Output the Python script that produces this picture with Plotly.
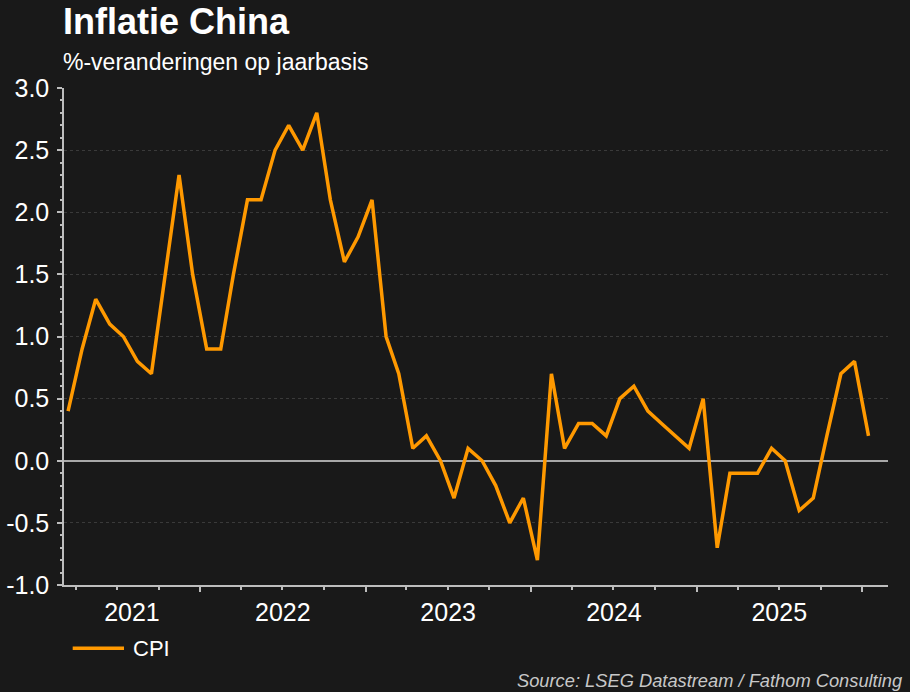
import plotly.graph_objects as go
import pandas as pd

# ---- data (China CPI, % y/y, monthly Mar 2021 - Jan 2026) ----
cpi = [0.4, 0.9, 1.3, 1.1, 1.0, 0.8, 0.7, 1.5, 2.3, 1.5,
       0.9, 0.9, 1.5, 2.1, 2.1, 2.5, 2.7, 2.5, 2.8, 2.1, 1.6, 1.8,
       2.1, 1.0, 0.7, 0.1, 0.2, 0.0, -0.3, 0.1, 0.0, -0.2, -0.5, -0.3,
       -0.8, 0.7, 0.1, 0.3, 0.3, 0.2, 0.5, 0.6, 0.4, 0.3, 0.2, 0.1,
       0.5, -0.7, -0.1, -0.1, -0.1, 0.1, 0.0, -0.4, -0.3, 0.2, 0.7, 0.8,
       0.2]
year_labels = ["2021", "2022", "2023", "2024", "2025"]
year_label_pos = ["2021-08-03", "2022-07-02", "2023-07-02", "2024-07-02", "2025-07-02"]
y_tickvals = [-1.0, -0.5, 0.0, 0.5, 1.0, 1.5, 2.0, 2.5, 3.0]
y_ticktext = ["-1.0", "-0.5", "0.0", "0.5", "1.0", "1.5", "2.0", "2.5", "3.0"]

dates = pd.date_range("2021-03-01", periods=len(cpi), freq="MS") + pd.Timedelta(days=14)

BG = "#191919"
AXIS = "#bdbdbd"
ORANGE = "#FF9900"
FONT = "Arial, Liberation Sans, sans-serif"
x_range = ["2021-03-06", "2026-02-27"]

fig = go.Figure()
fig.add_trace(go.Scatter(x=dates, y=cpi, mode="lines", name="CPI",
                         line=dict(color=ORANGE, width=3.5), showlegend=False))
fig.add_trace(go.Scatter(x=dates, y=cpi, mode="lines", xaxis="x2",
                         line=dict(width=0, color="rgba(0,0,0,0)"),
                         showlegend=False, hoverinfo="skip"))

fig.update_layout(
    width=910, height=692,
    margin=dict(l=64, r=22, t=88, b=107),
    paper_bgcolor=BG, plot_bgcolor=BG,
    font=dict(family=FONT, color="white", size=25),
    showlegend=False,
    xaxis=dict(
        type="date", range=x_range, automargin=False,
        showgrid=False, zeroline=False,
        showline=True, linecolor=AXIS, linewidth=1.5,
        ticks="outside", ticklen=5, tickcolor=AXIS, tickwidth=1.5,
        tick0="2021-01-01", dtick="M12",
        showticklabels=False,
        minor=dict(dtick="M3", tick0="2021-01-01", ticks="outside",
                   ticklen=3, tickcolor=AXIS, tickwidth=1.5, showgrid=False),
    ),
    xaxis2=dict(
        type="date", range=x_range, overlaying="x", side="bottom",
        anchor="y", showgrid=False, zeroline=False, showline=False,
        automargin=False,
        ticks="", tickmode="array", tickvals=year_label_pos,
        ticktext=year_labels, tickfont=dict(size=25, color="white"),
        ticklabelstandoff=10,
    ),
    yaxis=dict(
        range=[-1, 3], tickmode="array", tickvals=y_tickvals, ticktext=y_ticktext,
        automargin=False,
        showgrid=True, gridcolor="#3a3a3a", griddash="dot", gridwidth=1,
        zeroline=True, zerolinecolor="#a8a8a8", zerolinewidth=1.5,
        showline=True, linecolor=AXIS, linewidth=1.5,
        ticks="outside", ticklen=5, tickcolor=AXIS, tickwidth=1.5,
        tickfont=dict(size=25, color="white"),
        ticklabelstandoff=3,
        minor=dict(dtick=0.1, tick0=0, ticks="outside", ticklen=2.5,
                   tickcolor=AXIS, tickwidth=1.5, showgrid=False),
    ),
)

# legend key (drawn manually to match the long key line)
fig.add_shape(type="line", xref="paper", yref="paper",
              x0=(72.7 - 64) / 824, x1=(124 - 64) / 824,
              y0=(585 - 648.3) / 497, y1=(585 - 648.3) / 497,
              line=dict(color=ORANGE, width=3.5))
fig.add_annotation(text="CPI", xref="paper", yref="paper",
                   x=(131 - 64) / 824, y=(585 - 648.3) / 497,
                   xanchor="left", yanchor="middle", showarrow=False,
                   font=dict(size=22, color="white", family=FONT))

fig.add_annotation(text="<b>Inflatie China</b>", xref="paper", yref="paper",
                   x=0.0, y=1.133, xanchor="left", yanchor="middle",
                   showarrow=False, font=dict(size=36, color="white", family=FONT),
                   xshift=-3)
fig.add_annotation(text="%-veranderingen op jaarbasis", xref="paper", yref="paper",
                   x=0.0, y=1.052, xanchor="left", yanchor="middle",
                   showarrow=False, font=dict(size=23, color="white", family=FONT),
                   xshift=-3)
fig.add_annotation(text="<i>Source: LSEG Datastream / Fathom Consulting</i>",
                   xref="paper", yref="paper", x=1.0194, y=-0.193,
                   xanchor="right", yanchor="middle", showarrow=False,
                   font=dict(size=18.3, color="#c8c8c8", family=FONT))

fig.write_html("out.html", config={"displayModeBar": False},
               post_script="document.body.style.margin='0';")
